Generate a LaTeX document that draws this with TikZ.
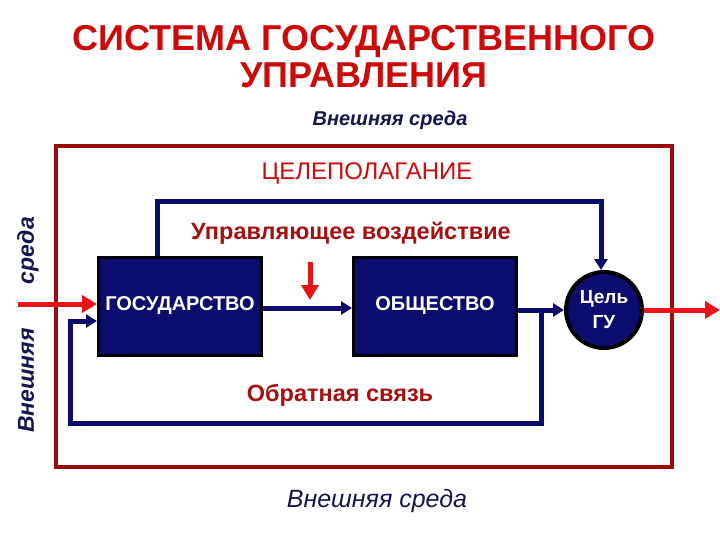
\documentclass[tikz,border=0pt]{standalone}
\usepackage{fontspec}
\setmainfont{Liberation Sans}
\usetikzlibrary{arrows.meta}
\definecolor{navy}{HTML}{0C0C6E}
\definecolor{titlered}{HTML}{CC0A0A}
\definecolor{darkred}{HTML}{A50F0F}
\definecolor{framered}{HTML}{9A0A0A}
\definecolor{arrred}{HTML}{E8141A}
\definecolor{textnavy}{HTML}{15154F}
\tikzset{
  blockbox/.style={draw=black, line width=3pt, fill=navy, minimum width=163pt, minimum height=98pt, text=white, font=\bfseries\fontsize{20}{22}\selectfont},
  goalcircle/.style={circle, draw=black, line width=4pt, fill=navy, minimum size=76pt, text=white, font=\bfseries\fontsize{19}{25}\selectfont, align=center, inner sep=0pt},
  navyline/.style={draw=navy, line width=5pt, -{Triangle[length=11pt,width=13pt]}},
  redarrow/.style={draw=arrred, line width=5pt, -{Triangle[length=15pt,width=17pt]}},
  envtext/.style={text=textnavy, font=\bfseries\itshape\fontsize{20}{22}\selectfont},
  labeltext/.style={text=darkred, font=\bfseries\fontsize{23.5}{26}\selectfont},
}
\begin{document}
\begin{tikzpicture}[x=1pt,y=-1pt]
\useasboundingbox (0,0) rectangle (720,540);
\fill[white] (0,0) rectangle (720,540);
% title
\node[text=titlered, font=\bfseries\fontsize{36}{37}\selectfont, align=center] (title) at (364,57) {СИСТЕМА ГОСУДАРСТВЕННОГО\\УПРАВЛЕНИЯ};
\node[envtext] (envtop) at (390,120) {Внешняя среда};
% frame
\draw[framered, line width=4.5pt] (56,146) rectangle (672,467);
\node[text=titlered, font=\fontsize{24}{26}\selectfont] (goalset) at (367,174) {ЦЕЛЕПОЛАГАНИЕ};
\node[labeltext] (ctrl) at (351,233) {Управляющее воздействие};
\node[labeltext] (fb) at (340,395) {Обратная связь};
% blocks
\node[blockbox] (state) at (180,306) {ГОСУДАРСТВО};
\node[blockbox] (society) at (435,306) {ОБЩЕСТВО};
\node[goalcircle] (goal) at (604,310) {Цель\\ГУ};
% connectors
\coordinate (topL) at (157,202);
\coordinate (topR) at (601,202);
\draw[navyline] (state.north -| topL) -- (topL) -- (topR) -- (goal.north -| topR);
\draw[navyline] (state.east |- 0,308) -- (society.west |- 0,308);
\draw[navyline] (society.east |- 0,310) -- (goal.west);
\coordinate (fb1) at (541,310);
\coordinate (fb2) at (541,423);
\coordinate (fb3) at (70,423);
\coordinate (fb4) at (70,321);
\draw[navyline] (fb1) -- (fb2) -- (fb3) -- (fb4) -- (state.west |- fb4);
% red arrows
\coordinate (inL) at (18,304);
\draw[redarrow] (inL) -- (state.west |- inL);
\coordinate (ctrltop) at (310,262);
\coordinate (ctrlbot) at (310,300);
\draw[redarrow] (ctrltop) -- (ctrlbot);
\coordinate (outR) at (720,310);
\draw[redarrow] (goal.east) -- (outR);
% env labels
\node[envtext, rotate=90, font=\bfseries\itshape\fontsize{23}{26}\selectfont] (envleft) at (28,325) {Внешняя\hspace{44pt}среда};
\node[envtext, font=\itshape\fontsize{25}{28}\selectfont] (envbot) at (377,501) {Внешняя среда};
\end{tikzpicture}
\end{document}
